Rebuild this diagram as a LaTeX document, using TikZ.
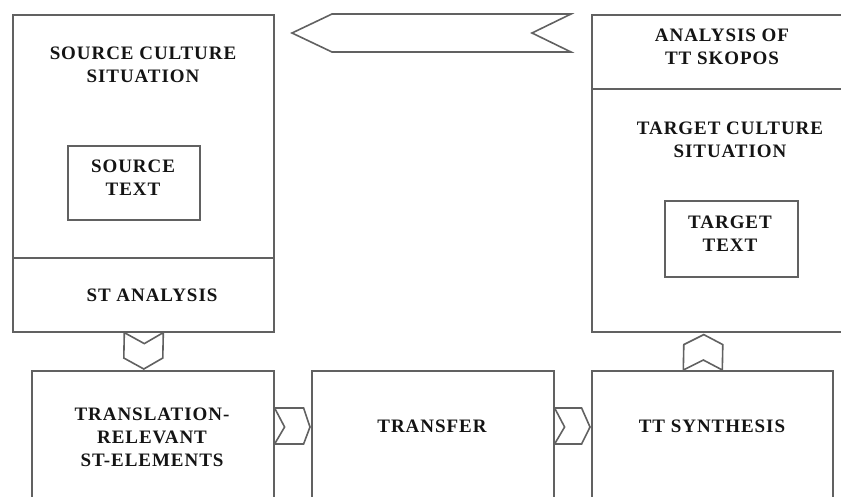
\documentclass[tikz,border=0pt]{standalone}
\usepackage{fontspec}
\setmainfont{Liberation Serif}[LetterSpace=5]
\usetikzlibrary{calc}
\tikzset{
  ln/.style={draw=black!62, line width=1.6pt, line join=miter},
  box/.style={ln, fill=white, anchor=north west, inner sep=0pt},
  lbl/.style={align=center, text=black!92, font=\fontsize{19}{23}\selectfont\bfseries, inner sep=0pt},
  chev/.style={ln, fill=white}
}
\begin{document}
\begin{tikzpicture}[x=1pt,y=-1pt]
\useasboundingbox (0,0) rectangle (841,496);
\clip (0,0) rectangle (841,496);
% big boxes
\node[box, minimum width=261pt, minimum height=317pt] (src) at (12,14) {};
\draw[ln] (src.west |- 0,258) coordinate (srcdl) -- (src.east |- 0,258) coordinate (srcdr);
\node[box, minimum width=132pt, minimum height=74pt] (st) at (67,145) {};
\node[box, minimum width=270pt, minimum height=317pt] (tgt) at (591,14) {};
\draw[ln] (tgt.west |- 0,89) coordinate (tgtdl) -- (tgt.east |- 0,89) coordinate (tgtdr);
\node[box, minimum width=133pt, minimum height=76pt] (tt) at (664,200) {};
% bottom boxes
\node[box, minimum width=242pt, minimum height=150pt] (trel) at (31,370) {};
\node[box, minimum width=242pt, minimum height=150pt] (trans) at (311,370) {};
\node[box, minimum width=241pt, minimum height=150pt] (synth) at (591,370) {};
% labels
\node[lbl] (l1) at (143,65) {SOURCE CULTURE\\SITUATION};
\node[lbl] (l2) at (133,178) {SOURCE\\TEXT};
\node[lbl] (l3) at (152,295) {ST ANALYSIS};
\node[lbl] (l4) at (722,47) {ANALYSIS OF\\TT SKOPOS};
\node[lbl] (l5) at (730,140) {TARGET CULTURE\\SITUATION};
\node[lbl] (l6) at (730,234) {TARGET\\TEXT};
\node[lbl] (l7) at (152,437) {TRANSLATION-\\RELEVANT\\ST-ELEMENTS};
\node[lbl] (l8) at (432,426) {TRANSFER};
\node[lbl] (l9) at (712,426) {TT SYNTHESIS};
% top block arrow
\draw[chev] (292,33) -- (332,14) -- (571,14) -- (532,33) -- (571,52) -- (332,52) -- cycle;
% down chevron between src and trel
\draw[chev] ($(src.south)+(-19,0)$) -- ($(src.south)+(1,11)$) -- ($(src.south)+(20,0)$)
  -- ($(trel.north)+(10,-12)$) -- ($(trel.north)+(-9,-1)$) -- ($(trel.north)+(-29,-12)$) -- cycle;
% up chevron between synth and tgt
\draw[chev] ($(synth.north)+(-29,0)$) -- ($(synth.north)+(-9,-10)$) -- ($(synth.north)+(10,0)$)
  -- ($(tgt.south)+(-4,12)$) -- ($(tgt.south)+(-23,2)$) -- ($(tgt.south)+(-43,12)$) -- cycle;
% right chevrons
\draw[chev] ($(trel.north east)+(0,38)$) -- ($(trel.north east)+(29,38)$) -- ($(trans.north west)+(-1,57)$)
  -- ($(trel.north east)+(29,74)$) -- ($(trel.north east)+(0,74)$) -- ($(trel.north east)+(10,57)$) -- cycle;
\draw[chev] ($(trans.north east)+(0,38)$) -- ($(trans.north east)+(27,38)$) -- ($(synth.north west)+(-1,57)$)
  -- ($(trans.north east)+(27,74)$) -- ($(trans.north east)+(0,74)$) -- ($(trans.north east)+(10,57)$) -- cycle;
\end{tikzpicture}
\end{document}
